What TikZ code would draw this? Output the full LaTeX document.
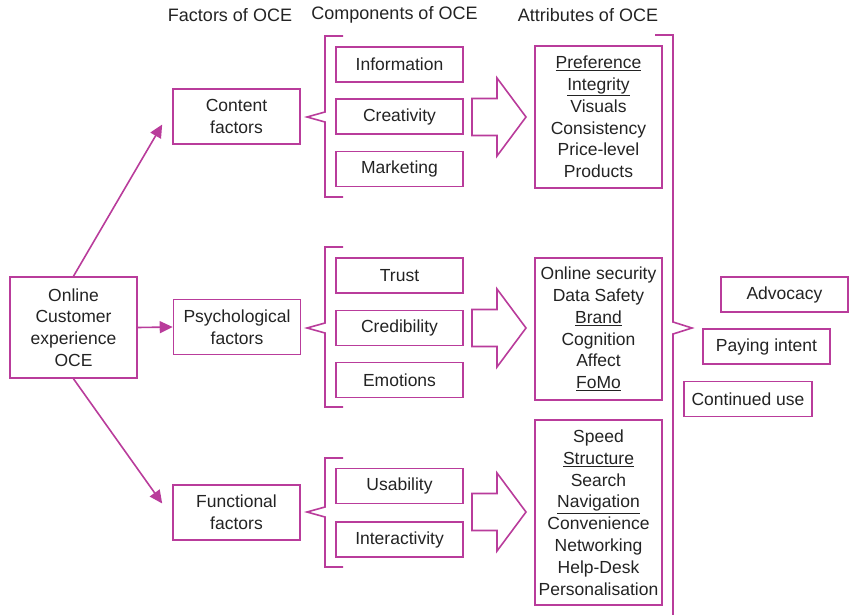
\documentclass[tikz,border=0pt]{standalone}
\usepackage{fontspec}
\setmainfont{Liberation Sans}
\usepackage{tikz}
\usetikzlibrary{arrows.meta,positioning}
\usepackage{xcolor}
\definecolor{oceline}{RGB}{185,60,155}
\definecolor{ocetext}{RGB}{35,35,35}

\begin{document}
\begin{tikzpicture}[x=1pt,y=-1pt,line width=1.6pt]
\tikzstyle{box}=[rectangle, draw=oceline, text=ocetext, align=center, inner sep=2pt, font=\fontsize{17.5}{21.8}\selectfont]
\tikzstyle{factor}=[box, minimum width=127pt, minimum height=55pt]
\tikzstyle{comp}=[box, minimum width=127pt, minimum height=35pt]
\tikzstyle{attr}=[box, minimum width=127pt]
\tikzstyle{head}=[text=ocetext, font=\fontsize{18}{22}\selectfont]
\tikzstyle{link}=[draw=oceline, -{Triangle[length=13pt,width=12pt]}]
\tikzstyle{frame}=[draw=oceline]

\useasboundingbox (0,0) rectangle (851,615);

% headings
\node[head] (hfac) at (230,15) {Factors of OCE};
\node[head] (hcomp) at (394.5,15) {Components of OCE};
\node[head] (hattr) at (588,15) {Attributes of OCE};

% factors
\node[box, minimum width=127pt, minimum height=101pt] (oce) at (73.5,327.5) {Online\\Customer\\experience\\OCE};
\node[factor] (content) at (236.5,116.5) {Content\\factors};
\node[factor] (psych) at (237,327) {Psychological\\factors};
\node[factor] (func) at (236.5,512.5) {Functional\\factors};

\draw[link] (oce.north) -- ([xshift=-10pt,yshift=-8pt]content.west);
\draw[link] (oce.east) -- (psych.west);
\draw[link] (oce.south) -- ([xshift=-10pt,yshift=9pt]func.west);

% components
\node[comp] (info) at (399.5,64.5) {Information};
\node[comp] (creat) at (399.5,116.5) {Creativity};
\node[comp] (market) at (399.5,169) {Marketing};
\node[comp] (trust) at (399.5,275.5) {Trust};
\node[comp] (cred) at (399.5,328) {Credibility};
\node[comp] (emot) at (399.5,380) {Emotions};
\node[comp] (usab) at (399.5,486) {Usability};
\node[comp] (inter) at (399.5,539.5) {Interactivity};

% braces
\draw[frame] (343,36) -- (325,36) -- (325,112) -- (307,117) -- (325,122) -- (325,197) -- (343,197);
\draw[frame] (343,247) -- (325,247) -- (325,323) -- (307,328) -- (325,333) -- (325,407) -- (343,407);
\draw[frame] (343,458) -- (325,458) -- (325,507) -- (307,512) -- (325,517) -- (325,567) -- (343,567);

% big arrows
\foreach \y in {117,328,512}
  \draw[frame] (472,\y-18.5) -- (497,\y-18.5) -- (497,\y-39) -- (526,\y) -- (497,\y+39) -- (497,\y+18.5) -- (472,\y+18.5) -- cycle;

% attributes
\node[attr, minimum height=142pt] (attrc) at (598.5,117) {\underline{Preference}\\\underline{Integrity}\\Visuals\\Consistency\\Price-level\\Products};
\node[attr, minimum height=142pt] (attrp) at (598.5,329) {Online security\\Data Safety\\\underline{Brand}\\Cognition\\Affect\\\underline{FoMo}};
\node[attr, minimum height=185pt] (attrf) at (598.5,512.5) {Speed\\\underline{Structure}\\Search\\\underline{Navigation}\\Convenience\\Networking\\Help-Desk\\Personalisation};

% outcome bracket
\draw[frame] (655,35) -- (673,35) -- (673,322) -- (692,328) -- (673,334) -- (673,615);

% outcomes
\node[comp] (advoc) at (784.5,294.5) {Advocacy};
\node[comp] (paying) at (766.5,346.5) {Paying intent};
\node[comp, minimum width=128pt] (contuse) at (748,399) {Continued use};
\end{tikzpicture}
\end{document}
